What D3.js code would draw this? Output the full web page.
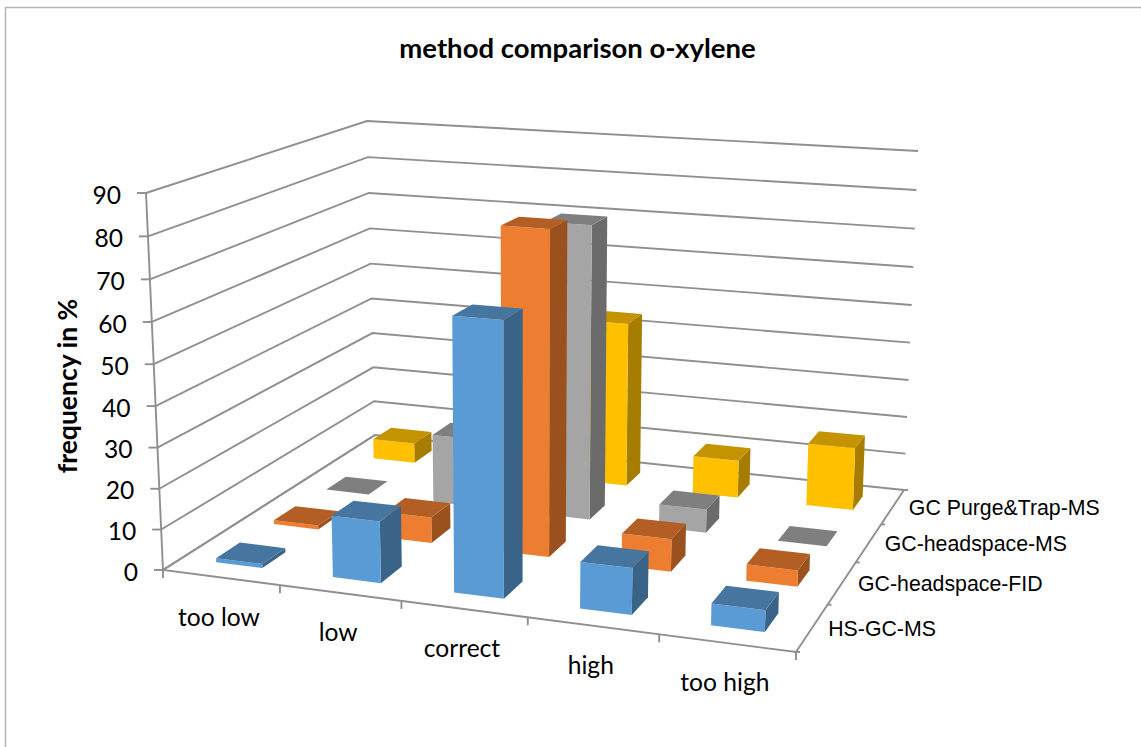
<!DOCTYPE html>
<html><head><meta charset="utf-8">
<script src="https://cdn.jsdelivr.net/npm/d3@7"></script>
<style>html,body{margin:0;padding:0;background:#fff}svg{display:block}</style></head>
<body><svg id="c" width="1141" height="747"></svg>
<script>
const categories=["too low","low","correct","high","too high"];
const seriesNames=["HS-GC-MS","GC-headspace-FID","GC-headspace-MS","GC Purge&Trap-MS"];
const hsGcMs=[1,15,65,11,5];
const gcHeadspaceFid=[1,6.5,80,8,4];
const gcHeadspaceMs=[0,18,75.5,6,0];
const gcPurgeTrapMs=[5.5,5,44,10,16.5];
const valueTicks=[0,10,20,30,40,50,60,70,80,90];
const seriesValues=[hsGcMs,gcHeadspaceFid,gcHeadspaceMs,gcPurgeTrapMs];
const frontColors=["#5B9BD5","#ED7D31","#A5A5A5","#FFC000"];
const topColors=["#4675A0","#B35E25","#7F7F7F","#C49300"];
const sideColors=["#3A6487","#9A511E","#6B6B6B","#A67D00"];

// unit-square homography
function homography(q){ // q: [p00,p10,p11,p01] with (u,v)
  const [a,b,c,d]=q;
  const dx1=b[0]-c[0],dx2=d[0]-c[0],sx=a[0]-b[0]+c[0]-d[0];
  const dy1=b[1]-c[1],dy2=d[1]-c[1],sy=a[1]-b[1]+c[1]-d[1];
  const den=dx1*dy2-dx2*dy1;
  const g=(sx*dy2-dx2*sy)/den,h=(dx1*sy-sx*dy1)/den;
  const A=b[0]-a[0]+g*b[0],B=d[0]-a[0]+h*d[0],C=a[0];
  const D=b[1]-a[1]+g*b[1],E=d[1]-a[1]+h*d[1],F=a[1];
  return (u,v)=>{const w=g*u+h*v+1;return [(A*u+B*v+C)/w,(D*u+E*v+F)/w];};
}
const floorH=homography([[163,570],[796,652],[904,490],[375,435]]);
const topH=homography([[146,193],[808,237],[918,151],[367,121]]);

const x=d3.scaleBand().domain(categories).range([0,1]).paddingInner(0.6).paddingOuter(0.3);
const xEdge=d3.scaleLinear().domain([0,categories.length]).range([0,1]);
const z=d3.scaleBand().domain(seriesNames).range([0,1]).paddingInner(0.6).paddingOuter(0.3);
const zEdge=d3.scaleLinear().domain([0,seriesNames.length]).range([0,1]);
const y=d3.scaleLinear().domain([0,90]).range([0,1]);
const K=1.04;
function project(u,v,val){
  const h=y(val),t=h/(h+(1-h)*K);
  const f=floorH(u,v),p=topH(u,v);
  return [f[0]+(p[0]-f[0])*t,f[1]+(p[1]-f[1])*t];
}
const svg=d3.select("#c");
const poly=(pts)=>"M"+pts.map(p=>p[0].toFixed(2)+","+p[1].toFixed(2)).join("L")+"Z";
const GRID="#8f8f8f";

// chart frame
svg.append("path").attr("d","M5.5,747L5.5,7.5L1141,7.5").attr("fill","none").attr("stroke","#b5b5b5").attr("stroke-width",1.5);

// gridlines: left wall + back wall
const g=svg.append("g").attr("fill","none").attr("stroke",GRID).attr("stroke-width",1.9);
valueTicks.forEach(t=>{
  g.append("path").attr("d",d3.line()([project(0,0,t),project(0,1,t),project(1,1,t)]));
});
// floor + axes
g.append("path").attr("d",d3.line()([project(0,1,0),project(0,0,0),project(1,0,0),project(1,1,0)]));
g.append("path").attr("d",d3.line()([project(0,0,0),project(0,0,90)]));
// value ticks
valueTicks.forEach(t=>{const p=project(0,0,t);
  g.append("path").attr("d",d3.line()([p,[p[0]-9,p[1]]]));
  svg.append("text").attr("x",p[0]-25).attr("y",p[1]+2).attr("dy","0.35em").attr("text-anchor","end")
    .attr("font-family","Lato").attr("font-size",24.6).attr("fill","#000").text(t);
});
// category ticks
d3.range(categories.length+1).forEach(i=>{const p=project(xEdge(i),0,0);
  g.append("path").attr("d",d3.line()([p,[p[0],p[1]+8]]));});
// series ticks
d3.range(seriesNames.length+1).forEach(i=>{const p=project(1,zEdge(i),0);
  g.append("path").attr("d",d3.line()([p,[p[0]+4,p[1]]]));});

// bars back to front
const bars=svg.append("g");
d3.range(seriesNames.length-1,-1,-1).forEach(s=>{
  categories.forEach((c,i)=>{
    const val=seriesValues[s][i];
    const u0=x(c),u1=u0+x.bandwidth();
    const v0=z(seriesNames[s]),v1=v0+z.bandwidth();
    const P=project;
    const b=bars.append("g");
    if(val>0){
      b.append("path").attr("fill",sideColors[s]).attr("d",poly([P(u1,v0,0),P(u1,v1,0),P(u1,v1,val),P(u1,v0,val)]));
      b.append("path").attr("fill",frontColors[s]).attr("d",poly([P(u0,v0,0),P(u1,v0,0),P(u1,v0,val),P(u0,v0,val)]));
    }
    b.append("path").attr("fill",topColors[s]).attr("d",poly([P(u0,v0,val),P(u1,v0,val),P(u1,v1,val),P(u0,v1,val)]));
  });
});

// category labels
categories.forEach((c,i)=>{const p=project(xEdge(i+0.5),0,0);
  svg.append("text").attr("x",p[0]-2).attr("y",p[1]+39.5).attr("dy","0.35em").attr("text-anchor","middle")
   .attr("font-family","Lato").attr("font-size",24.6).attr("fill","#000").text(c);});
// series labels
seriesNames.forEach((n,i)=>{const p=project(1,zEdge(i+0.5),0);
  svg.append("text").attr("x",p[0]+16).attr("y",p[1]+1).attr("dy","0.35em").attr("text-anchor","start")
   .attr("font-family","Liberation Sans").attr("font-size",21.3).attr("fill","#000").text(n);});
// titles
svg.append("text").attr("x",577.5).attr("y",48).attr("dy","0.35em").attr("text-anchor","middle")
  .attr("font-family","Lato").attr("font-weight",700).attr("font-size",27.5).attr("fill","#000").text("method comparison o-xylene");
svg.append("text").attr("transform","translate(68,386) rotate(-90)").attr("dy","0.35em").attr("text-anchor","middle")
  .attr("font-family","Lato").attr("font-weight",700).attr("font-size",26.5).attr("fill","#000").text("frequency in %");
</script></body></html>
